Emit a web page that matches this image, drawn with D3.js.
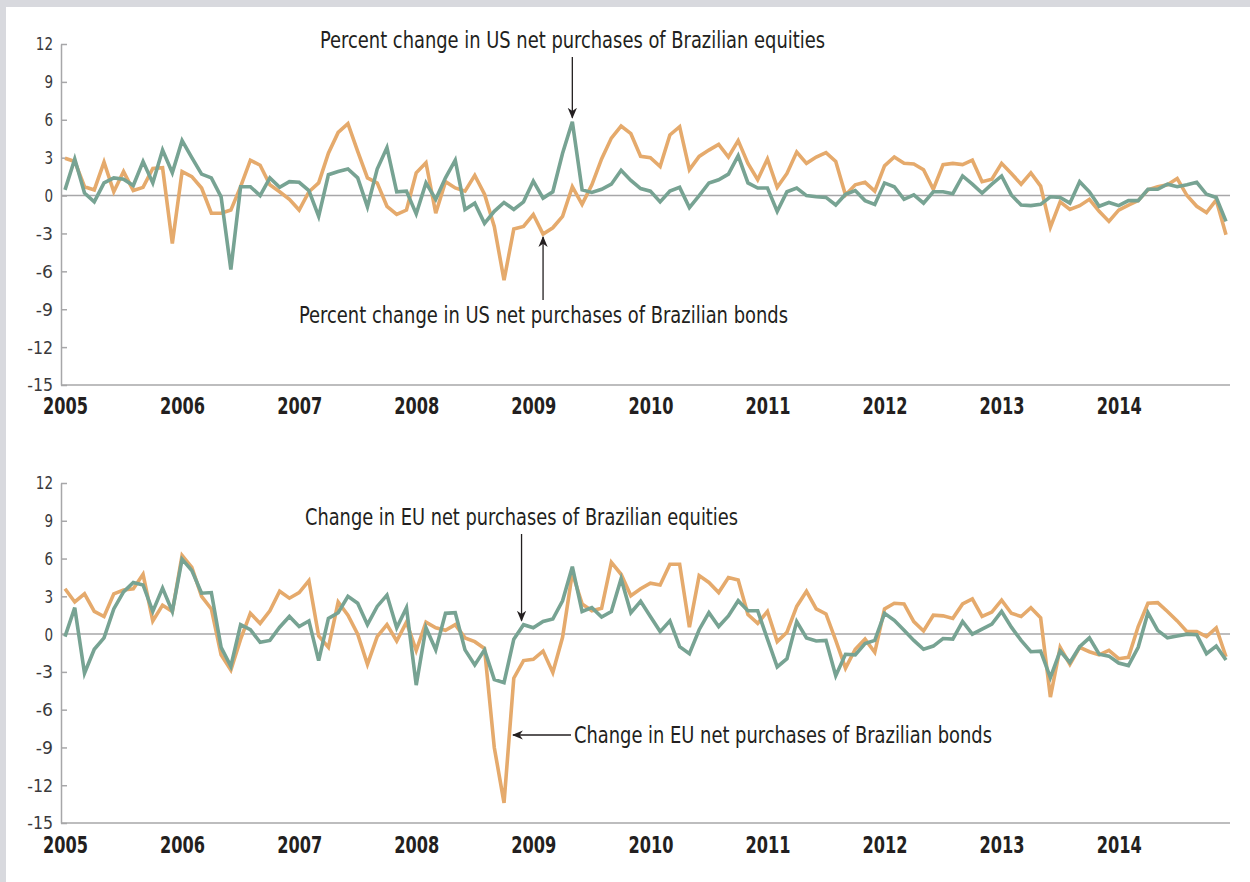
<!DOCTYPE html>
<html>
<head>
<meta charset="utf-8">
<script src="https://cdn.jsdelivr.net/npm/d3@7/dist/d3.min.js"></script>
<style>
  html, body { margin: 0; padding: 0; background: #ffffff; }
  svg { display: block; }
  .lbl { font-family: "Liberation Sans Narrow", "DejaVu Sans Condensed", "Roboto Condensed", "Liberation Sans", sans-serif; }
</style>
</head>
<body>
<svg id="chart" width="1250" height="882"></svg>
<script>
// Monthly observations, January 2005 through December 2014
const years = ["2005","2006","2007","2008","2009","2010","2011","2012","2013","2014"];
const yTicks = [12, 9, 6, 3, 0, -3, -6, -9, -12, -15];

// Percent change in US net purchases of Brazilian equities
const usEquities = [
  0.45, 2.9, 0.2, -0.5, 1.0, 1.4, 1.3, 0.8, 2.7, 1.0, 3.6, 1.8,
  4.35, 3.0, 1.7, 1.4, -0.1, -5.85, 0.7, 0.7, 0.0, 1.4, 0.65, 1.1,
  1.05, 0.4, -1.65, 1.65, 1.9, 2.1, 1.4, -0.9, 2.1, 3.8, 0.3, 0.35,
  -1.45, 1.0, -0.3, 1.4, 2.8, -1.1, -0.6, -2.2, -1.25, -0.55, -1.1, -0.5,
  1.15, -0.2, 0.3, 3.35, 5.85, 0.45, 0.25, 0.5, 0.9, 2.0, 1.2, 0.55,
  0.35, -0.5, 0.35, 0.65, -0.95, 0.0, 1.0, 1.25, 1.7, 3.15, 1.0, 0.6,
  0.6, -1.25, 0.3, 0.6, 0.0, -0.1, -0.15, -0.75, 0.1, 0.4, -0.4, -0.7,
  1.0, 0.7, -0.3, 0.05, -0.6, 0.3, 0.3, 0.15, 1.55, 0.9, 0.2, 0.9,
  1.55, 0.05, -0.75, -0.8, -0.7, -0.1, -0.15, -0.6, 1.1, 0.3, -0.85, -0.55,
  -0.8, -0.4, -0.4, 0.5, 0.5, 0.9, 0.7, 0.85, 1.05, 0.1, -0.15, -2.05
];

// Percent change in US net purchases of Brazilian bonds
const usBonds = [
  2.95, 2.7, 0.7, 0.45, 2.65, 0.3, 1.9, 0.4, 0.65, 2.15, 2.2, -3.8,
  1.9, 1.5, 0.6, -1.4, -1.4, -1.15, 0.7, 2.8, 2.4, 0.85, 0.3, -0.3,
  -1.15, 0.3, 1.0, 3.35, 5.0, 5.7, 3.5, 1.4, 1.0, -0.85, -1.5, -1.15,
  1.8, 2.6, -1.4, 1.1, 0.6, 0.35, 1.6, 0.1, -2.45, -6.7, -2.65, -2.45,
  -1.5, -3.05, -2.55, -1.65, 0.7, -0.7, 0.85, 2.9, 4.55, 5.5, 4.9, 3.1,
  3.0, 2.3, 4.8, 5.45, 2.05, 3.1, 3.6, 4.05, 3.05, 4.35, 2.55, 1.25,
  2.9, 0.65, 1.75, 3.45, 2.55, 3.05, 3.4, 2.7, 0.05, 0.85, 1.05, 0.35,
  2.35, 3.05, 2.55, 2.5, 2.05, 0.5, 2.45, 2.55, 2.45, 2.8, 1.1, 1.3,
  2.55, 1.75, 0.9, 1.8, 0.75, -2.5, -0.5, -1.1, -0.8, -0.3, -1.25, -2.05,
  -1.15, -0.75, -0.4, 0.45, 0.7, 0.85, 1.35, 0.0, -0.85, -1.35, -0.35, -3.1
];

// Change in EU net purchases of Brazilian equities
const euEquities = [
  -0.2, 2.1, -3.1, -1.2, -0.3, 2.0, 3.35, 4.1, 3.9, 1.8, 3.65, 1.8,
  5.95, 5.05, 3.25, 3.3, -1.05, -2.55, 0.75, 0.35, -0.65, -0.5, 0.55, 1.4,
  0.6, 1.05, -2.1, 1.25, 1.7, 3.0, 2.45, 0.75, 2.2, 3.1, 0.5, 2.1,
  -4.05, 0.5, -1.25, 1.65, 1.7, -1.25, -2.45, -1.25, -3.6, -3.85, -0.4, 0.75,
  0.5, 1.0, 1.2, 2.65, 5.35, 1.8, 2.1, 1.35, 1.8, 4.4, 1.7, 2.6,
  1.4, 0.2, 1.05, -1.0, -1.55, 0.35, 1.7, 0.6, 1.45, 2.65, 1.85, 1.85,
  -0.4, -2.6, -1.95, 1.0, -0.3, -0.55, -0.5, -3.3, -1.6, -1.65, -0.75, -0.5,
  1.65, 1.1, 0.3, -0.5, -1.2, -0.95, -0.35, -0.4, 1.0, 0.0, 0.4, 0.8,
  1.8, 0.55, -0.5, -1.4, -1.35, -3.45, -1.35, -2.25, -1.0, -0.3, -1.6, -1.75,
  -2.3, -2.5, -1.05, 1.7, 0.3, -0.3, -0.15, 0.0, -0.05, -1.55, -0.95, -2.05
];

// Change in EU net purchases of Brazilian bonds
const euBonds = [
  3.6, 2.55, 3.2, 1.8, 1.4, 3.2, 3.5, 3.6, 4.75, 1.05, 2.3, 1.8,
  6.25, 5.3, 3.0, 2.0, -1.65, -2.85, -0.4, 1.65, 0.85, 1.85, 3.4, 2.85,
  3.3, 4.25, -0.15, -1.05, 2.55, 1.5, 0.0, -2.4, -0.2, 0.75, -0.55, 0.95,
  -1.3, 0.95, 0.5, 0.3, 0.75, -0.3, -0.6, -1.15, -9.0, -13.4, -3.5, -2.1,
  -2.0, -1.35, -3.05, -0.25, 4.85, 2.4, 1.85, 2.05, 5.7, 4.75, 3.05, 3.6,
  4.05, 3.9, 5.55, 5.55, 0.55, 4.65, 4.1, 3.3, 4.5, 4.3, 1.55, 0.85,
  1.8, -0.6, 0.15, 2.2, 3.4, 2.0, 1.6, -0.5, -2.7, -1.2, -0.4, -1.45,
  2.0, 2.45, 2.4, 1.0, 0.25, 1.5, 1.45, 1.25, 2.4, 2.8, 1.4, 1.75,
  2.7, 1.65, 1.4, 2.1, 1.3, -5.0, -1.05, -2.4, -1.05, -1.4, -1.65, -1.3,
  -1.95, -1.85, 0.6, 2.45, 2.5, 1.8, 1.05, 0.2, 0.2, -0.2, 0.5, -1.8
];

const COLORS = { bonds: "#E5AA6C", equities: "#77A393", axis: "#a7a7a9", text: "#231f20" };

const svg = d3.select("#chart");

// Light frame along the top and left edges
svg.append("rect").attr("x", 0).attr("y", 0).attr("width", 1250).attr("height", 882).attr("fill", "#d8d9de");
svg.append("rect").attr("x", 6).attr("y", 7).attr("width", 1244).attr("height", 875).attr("fill", "#ffffff");

const x = d3.scaleLinear().domain([0, 119]).range([65, 1226]);
const axisLeftX = 61, axisRightX = 1230;

// Arrowhead marker
const defs = svg.append("defs");
defs.append("marker")
  .attr("id", "arrowhead")
  .attr("viewBox", "0 0 10 10")
  .attr("refX", 9).attr("refY", 5)
  .attr("markerWidth", 11).attr("markerHeight", 11)
  .attr("markerUnits", "userSpaceOnUse")
  .attr("orient", "auto")
  .append("path")
  .attr("d", "M0,0.8 L10,5 L0,9.2 L3,5 Z")
  .attr("fill", COLORS.text);

function drawPanel(cfg) {
  const y = d3.scaleLinear().domain([-15, 12]).range([cfg.bottom, cfg.top]);
  const g = svg.append("g");

  // y axis with ticks pointing into the plot
  const yAxis = d3.axisLeft(y)
    .tickValues(yTicks)
    .tickFormat(d => String(d))
    .tickSizeInner(-6)
    .tickSizeOuter(0)
    .tickPadding(8);
  const ya = g.append("g").attr("transform", `translate(${axisLeftX},0)`).call(yAxis);
  ya.select(".domain").attr("stroke", COLORS.axis).attr("stroke-width", 1.5);
  ya.selectAll(".tick line").attr("stroke", COLORS.axis).attr("stroke-width", 1.5);
  ya.selectAll(".tick text")
    .attr("class", "lbl")
    .attr("fill", "#3a3a3c")
    .attr("textLength", d => String(d).length * 8.6)
    .attr("lengthAdjust", "spacingAndGlyphs")
    .style("font-size", "18.5px");

  // zero reference line
  g.append("line")
    .attr("x1", axisLeftX).attr("x2", axisRightX)
    .attr("y1", y(0)).attr("y2", y(0))
    .attr("stroke", COLORS.axis).attr("stroke-width", 1.5);

  // baseline
  g.append("line")
    .attr("x1", axisLeftX).attr("x2", axisRightX)
    .attr("y1", y(-15)).attr("y2", y(-15))
    .attr("stroke", COLORS.axis).attr("stroke-width", 1.5);

  // year labels
  const xAxis = d3.axisBottom(x)
    .tickValues(years.map((_, i) => i * 12))
    .tickFormat((d, i) => years[i])
    .tickSize(0)
    .tickPadding(0);
  const xa = g.append("g").attr("transform", `translate(0,${cfg.yearBaseline})`).call(xAxis);
  xa.select(".domain").remove();
  xa.selectAll(".tick text")
    .attr("class", "lbl")
    .attr("dy", 0).attr("y", 0)
    .attr("fill", COLORS.text)
    .attr("textLength", 45)
    .attr("lengthAdjust", "spacingAndGlyphs")
    .style("font-size", "23.5px")
    .style("font-weight", "bold");

  const line = d3.line().x((d, i) => x(i)).y(d => y(d)).curve(d3.curveLinear);

  g.append("path").datum(cfg.bonds)
    .attr("d", line)
    .attr("fill", "none")
    .attr("stroke", COLORS.bonds)
    .attr("stroke-width", 3.6)
    .attr("stroke-linejoin", "miter");

  g.append("path").datum(cfg.equities)
    .attr("d", line)
    .attr("fill", "none")
    .attr("stroke", COLORS.equities)
    .attr("stroke-width", 3.6)
    .attr("stroke-linejoin", "miter");

  // annotations
  cfg.notes.forEach(n => {
    g.append("text")
      .attr("class", "lbl")
      .attr("x", n.tx).attr("y", n.ty)
      .attr("textLength", n.tw)
      .attr("lengthAdjust", "spacingAndGlyphs")
      .attr("fill", COLORS.text)
      .style("font-size", "23px")
      .text(n.text);
    const a = n.arrow(y);
    g.append("line")
      .attr("x1", a[0]).attr("y1", a[1])
      .attr("x2", a[2]).attr("y2", a[3])
      .attr("stroke", COLORS.text)
      .attr("stroke-width", 1.3)
      .attr("marker-end", "url(#arrowhead)");
  });
}

drawPanel({
  top: 44, bottom: 385, yearBaseline: 414,
  bonds: usBonds, equities: usEquities,
  notes: [
    { text: "Percent change in US net purchases of Brazilian equities",
      tx: 320, ty: 48, tw: 505,
      arrow: y => [x(52), 57, x(52), y(usEquities[52]) - 4] },
    { text: "Percent change in US net purchases of Brazilian bonds",
      tx: 299, ty: 323, tw: 489,
      arrow: y => [x(49), 300, x(49), y(usBonds[49]) + 3] }
  ]
});

drawPanel({
  top: 483, bottom: 823, yearBaseline: 853,
  bonds: euBonds, equities: euEquities,
  notes: [
    { text: "Change in EU net purchases of Brazilian equities",
      tx: 305, ty: 525, tw: 433,
      arrow: y => [x(47) - 2, 534, x(47) - 2, y(euEquities[47]) - 4] },
    { text: "Change in EU net purchases of Brazilian bonds",
      tx: 574, ty: 743, tw: 418,
      arrow: y => [571, 735, 513, 735] }
  ]
});
</script>
</body>
</html>
